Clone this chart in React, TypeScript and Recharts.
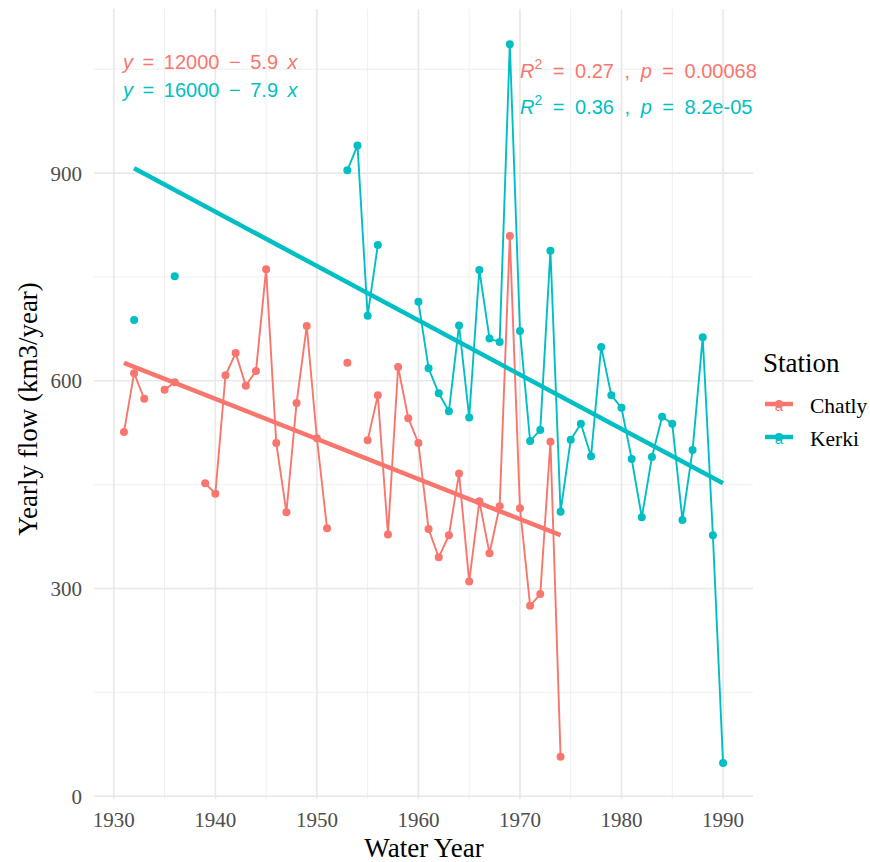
import { CartesianGrid, ComposedChart, Line, XAxis, YAxis } from "recharts";

const years = [
  1931, 1932, 1933, 1934, 1935, 1936, 1937, 1938, 1939, 1940,
  1941, 1942, 1943, 1944, 1945, 1946, 1947, 1948, 1949, 1950,
  1951, 1952, 1953, 1954, 1955, 1956, 1957, 1958, 1959, 1960,
  1961, 1962, 1963, 1964, 1965, 1966, 1967, 1968, 1969, 1970,
  1971, 1972, 1973, 1974, 1975, 1976, 1977, 1978, 1979, 1980,
  1981, 1982, 1983, 1984, 1985, 1986, 1987, 1988, 1989, 1990,
];

// yearly flow, null = no record that year
const chatlyFlow = [
  526, 611, 574, null, 587, 598, null, null, 452, 437,
  608, 640, 593, 614, 761, 510, 410, 568, 679, 517,
  387, null, 626, null, 514, 579, 378, 620, 546, 510,
  386, 345, 377, 466, 310, 426, 351, 419, 809, 416,
  275, 292, 512, 57, null, null, null, null, null, null,
  null, null, null, null, null, null, null, null, null, null,
];

const kerkiFlow = [
  null, 688, null, null, null, 751, null, null, null, null,
  null, null, null, null, null, null, null, null, null, null,
  null, null, 904, 940, 694, 796, null, null, null, 714,
  618, 582, 556, 680, 547, 760, 661, 656, 1086, 672,
  513, 529, 788, 411, 515, 538, 491, 649, 579, 561,
  487, 403, 490, 548, 538, 399, 500, 663, 377, 48,
];

// linear fit end points
const chatlyFitYears = [1931, 1974];
const chatlyFitValues = [626, 377];
const kerkiFitYears = [1932, 1990];
const kerkiFitValues = [907, 452];

const xTicks = [1930, 1940, 1950, 1960, 1970, 1980, 1990];
const xMinor = [1935, 1945, 1955, 1965, 1975, 1985];
const yTicks = [0, 300, 600, 900];
const yMinor = [150, 450, 750, 1050];

const RED = "#F8766D";
const TEAL = "#00BFC4";
const SERIF = "'Liberation Serif', 'Times New Roman', serif";
const SANS = "'Liberation Sans', Arial, sans-serif";

const rows = years.map((year, i) => {
  const ci = chatlyFitYears.indexOf(year);
  const ki = kerkiFitYears.indexOf(year);
  return {
    year,
    chatly: chatlyFlow[i],
    kerki: kerkiFlow[i],
    chatlyFit: ci >= 0 ? chatlyFitValues[ci] : null,
    kerkiFit: ki >= 0 ? kerkiFitValues[ki] : null,
  };
});

function LegendKey({ y, color, label }: { y: number; color: string; label: string }) {
  return (
    <g>
      <line x1={765} x2={793} y1={y} y2={y} stroke={color} strokeWidth={4.5} />
      <circle cx={779} cy={y} r={4} fill={color} />
      <text x={779} y={y + 7} textAnchor="middle" fontSize={15} fontFamily={SANS} fill={color}>
        a
      </text>
      <text x={810} y={y + 9} fontSize={21.5} fontFamily={SERIF} fill="#000">
        {label}
      </text>
    </g>
  );
}

export default function App() {
  const tick = { fill: "#4D4D4D", fontSize: 21, fontFamily: SERIF };
  return (
    <div style={{ position: "absolute", left: 0, top: 0, width: 870, height: 862, background: "#fff" }}>
      <ComposedChart
        width={870}
        height={862}
        data={rows}
        margin={{ top: 9, right: 117, bottom: 0, left: 0 }}
      >
        <CartesianGrid
          verticalValues={xMinor}
          horizontalValues={yMinor}
          stroke="#EFEFEF"
          strokeWidth={1}
        />
        <CartesianGrid
          verticalValues={xTicks}
          horizontalValues={yTicks}
          stroke="#E8E8E8"
          strokeWidth={1.6}
        />
        <XAxis
          dataKey="year"
          type="number"
          domain={[1928.05, 1992.95]}
          ticks={xTicks}
          height={63}
          tick={tick}
          tickLine={false}
          axisLine={false}
          tickMargin={7}
          allowDataOverflow
        />
        <YAxis
          type="number"
          domain={[-4, 1137]}
          ticks={yTicks}
          width={94}
          tick={tick}
          tickLine={false}
          axisLine={false}
          tickMargin={6}
          allowDataOverflow
        />
        <Line
          dataKey="chatly"
          stroke={RED}
          strokeWidth={1.9}
          dot={{ r: 4, fill: RED, stroke: RED, strokeWidth: 0 }}
          activeDot={false}
          isAnimationActive={false}
        />
        <Line
          dataKey="kerki"
          stroke={TEAL}
          strokeWidth={1.9}
          dot={{ r: 4, fill: TEAL, stroke: TEAL, strokeWidth: 0 }}
          activeDot={false}
          isAnimationActive={false}
        />
        <Line
          dataKey="chatlyFit"
          stroke={RED}
          strokeWidth={4.5}
          dot={false}
          activeDot={false}
          connectNulls
          isAnimationActive={false}
        />
        <Line
          dataKey="kerkiFit"
          stroke={TEAL}
          strokeWidth={4.5}
          dot={false}
          activeDot={false}
          connectNulls
          isAnimationActive={false}
        />
      </ComposedChart>

      <svg
        width={870}
        height={862}
        style={{ position: "absolute", left: 0, top: 0, pointerEvents: "none" }}
      >
        {/* regression equations */}
        <g fontFamily={SANS} fontSize={20} wordSpacing={4} xmlSpace="preserve">
          <text x={123} y={69} fill={RED}>
            <tspan fontStyle="italic">y</tspan> = 12000 − 5.9 <tspan fontStyle="italic">x</tspan>
          </text>
          <text x={123} y={97} fill={TEAL}>
            <tspan fontStyle="italic">y</tspan> = 16000 − 7.9 <tspan fontStyle="italic">x</tspan>
          </text>
        </g>
        <g fontFamily={SANS} fontSize={20} wordSpacing={5} xmlSpace="preserve">
          <text x={520} y={78} fill={RED}>
            <tspan fontStyle="italic">R</tspan>
            <tspan fontSize={14} dy={-9}>2</tspan>
            <tspan dy={9}> = 0.27 , </tspan>
            <tspan fontStyle="italic">p</tspan> = 0.00068
          </text>
          <text x={520} y={114} fill={TEAL}>
            <tspan fontStyle="italic">R</tspan>
            <tspan fontSize={14} dy={-9}>2</tspan>
            <tspan dy={9}> = 0.36 , </tspan>
            <tspan fontStyle="italic">p</tspan> = 8.2e-05
          </text>
        </g>

        {/* axis titles */}
        <text x={424} y={857} textAnchor="middle" fontSize={27} fontFamily={SERIF} fill="#000">
          Water Year
        </text>
        <text
          x={37}
          y={409}
          textAnchor="middle"
          fontSize={27}
          fontFamily={SERIF}
          fill="#000"
          transform="rotate(-90 37 409)"
        >
          Yearly flow (km3/year)
        </text>

        {/* legend */}
        <text x={763} y={372} fontSize={27} fontFamily={SERIF} fill="#000">
          Station
        </text>
        <LegendKey y={404} color={RED} label="Chatly" />
        <LegendKey y={437} color={TEAL} label="Kerki" />
      </svg>
    </div>
  );
}
